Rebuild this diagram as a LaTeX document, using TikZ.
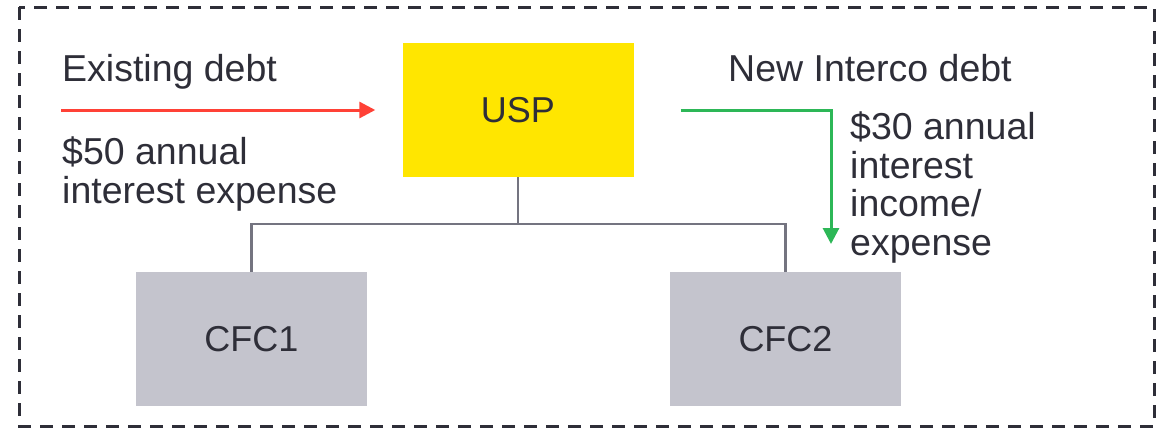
\documentclass[tikz,border=0pt]{standalone}
\usepackage{fontspec}
\setmainfont{Liberation Sans}
\usetikzlibrary{arrows.meta}
\definecolor{eyyellow}{HTML}{FFE600}
\definecolor{eygrey}{HTML}{C4C4CD}
\definecolor{eyline}{HTML}{747480}
\definecolor{eydark}{HTML}{2E2E38}
\definecolor{eyred}{HTML}{FF4136}
\definecolor{eygreen}{HTML}{2DB757}

\begin{document}
\begin{tikzpicture}[x=1pt,y=-1pt,
  entity/.style={rectangle,minimum width=231pt,minimum height=134pt,inner sep=0pt,
    text=eydark,font=\fontsize{36}{40}\selectfont},
  notetext/.style={inner sep=0pt,align=left,text=eydark,
    font=\fontsize{37.5}{38.5}\selectfont},
  tree/.style={eyline,line width=2.5pt},
  debtarrow/.style={line width=3pt,-{Triangle[length=16pt,width=16pt]}}]
  \useasboundingbox (0,0) rectangle (1165,431);
  % dashed frame
  \draw[eydark,line width=3pt,dash pattern=on 13pt off 9pt] (19,7) rectangle (1154,426);
  % entities
  \node[entity,fill=eyyellow] (usp) at (518,110) {USP};
  \node[entity,fill=eygrey] (cfc1) at (251.5,339) {CFC1};
  \node[entity,fill=eygrey] (cfc2) at (785.5,339) {CFC2};
  % ownership lines
  \draw[tree] (usp.south) -- ++(0,47) coordinate (split);
  \draw[tree] (split) -| (cfc1.north);
  \draw[tree] (split) -| (cfc2.north);
  % texts (base = last line)
  \node[notetext,anchor=base west] (existing) at (62,81) {Existing debt};
  \node[notetext,anchor=base west] (leftnote) at (62,203) {\$50 annual\\interest expense};
  \node[notetext,anchor=base west] (newdebt) at (728,81) {New Interco debt};
  \node[notetext,anchor=base west] (rightnote) at (850,255) {\$30 annual\\interest\\income/\\expense};
  % debt flows
  \coordinate (redstart) at (61,110);
  \draw[debtarrow,eyred] (redstart) -- ([xshift=-27pt]usp.west);
  \coordinate (greenend) at (831,244);
  \draw[debtarrow,eygreen] ([xshift=47pt]usp.east) -| (greenend);
\end{tikzpicture}
\end{document}
